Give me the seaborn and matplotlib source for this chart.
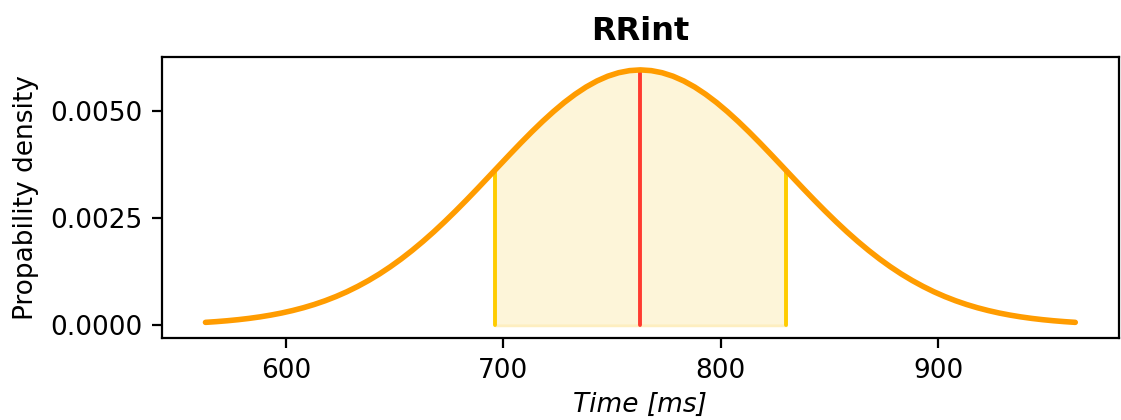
import numpy as np
import pandas as pd
import matplotlib
matplotlib.use("Agg")
import matplotlib.pyplot as plt
import seaborn as sns

# values
time_ms = list(range(563, 964, 5))
density = [0.0000692, 0.0000862, 0.0001068, 0.0001316, 0.0001612, 0.0001965,
           0.0002382, 0.0002869, 0.0003441, 0.0004098, 0.0004857, 0.0005724,
           0.000671, 0.000782, 0.000907, 0.001045, 0.001197, 0.001365,
           0.001547, 0.001744, 0.001955, 0.002179, 0.002416, 0.002663,
           0.002919, 0.003182, 0.003450, 0.003719, 0.003987, 0.004251,
           0.004507, 0.004752, 0.004982, 0.005195, 0.005386, 0.005554,
           0.005695, 0.005807, 0.005888, 0.005937, 0.005954, 0.005937,
           0.005888, 0.005807, 0.005695, 0.005554, 0.005386, 0.005195,
           0.004982, 0.004752, 0.004507, 0.004251, 0.003987, 0.003719,
           0.003450, 0.003182, 0.002919, 0.002663, 0.002416, 0.002179,
           0.001955, 0.001744, 0.001547, 0.001365, 0.001197, 0.001045,
           0.000907, 0.000782, 0.000671, 0.0005724, 0.0004857, 0.0004098,
           0.0003441, 0.0002869, 0.0002382, 0.0001965, 0.0001612, 0.0001316,
           0.0001068, 0.0000862, 0.0000692]
mean_ms = 763
mean_density = 0.005954
band_ms = [696, 830]
band_density = [0.003611, 0.003611]


def main():
    sns.set_style("ticks", rc={'text.color': 'black', 'axes.labelcolor': 'black',
                               'xtick.color': 'black', 'ytick.color': 'black',
                               'axes.edgecolor': 'black'})
    plt.rcParams['font.family'] = ['DejaVu Sans']

    df = pd.DataFrame({'time': time_ms, 'density': density})

    fig, ax = plt.subplots(figsize=(5.605, 2.1), dpi=200)
    fig.subplots_adjust(left=0.1445, right=0.998, top=0.864, bottom=0.195)

    # shaded +-1 sd band
    inner = df[(df['time'] > band_ms[0]) & (df['time'] < band_ms[1])]
    fill_x = [band_ms[0]] + list(inner['time']) + [band_ms[1]]
    fill_y = [band_density[0]] + list(inner['density']) + [band_density[1]]
    ax.fill_between(fill_x, 0, fill_y, color='#fdf5d9', edgecolor='#fdeec0',
                    linewidth=1)
    for bx, by in zip(band_ms, band_density):
        ax.plot([bx, bx], [0, by], color='#ffcc00', linewidth=1.4)
    ax.plot([mean_ms, mean_ms], [0, mean_density], color='#ff3b30',
            linewidth=1.4)

    # density curve
    sns.lineplot(data=df, x='time', y='density', ax=ax, color='#ff9c00',
                 linewidth=2)

    ax.set_xticks([600, 700, 800, 900])
    ax.set_yticks([0.0, 0.0025, 0.0050])
    ax.set_yticklabels(["0.0000", "0.0025", "0.0050"])
    ax.tick_params(labelsize=9.5, length=3.5, width=0.8)
    ax.set_xlabel("Time [ms]", fontsize=9.5, style='italic', labelpad=3)
    ax.set_ylabel("Propability density", fontsize=9.5)
    ax.set_title("RRint", fontsize=11.5, fontweight='bold')

    fig.savefig("out.png", dpi=200)


if __name__ == "__main__":
    main()
